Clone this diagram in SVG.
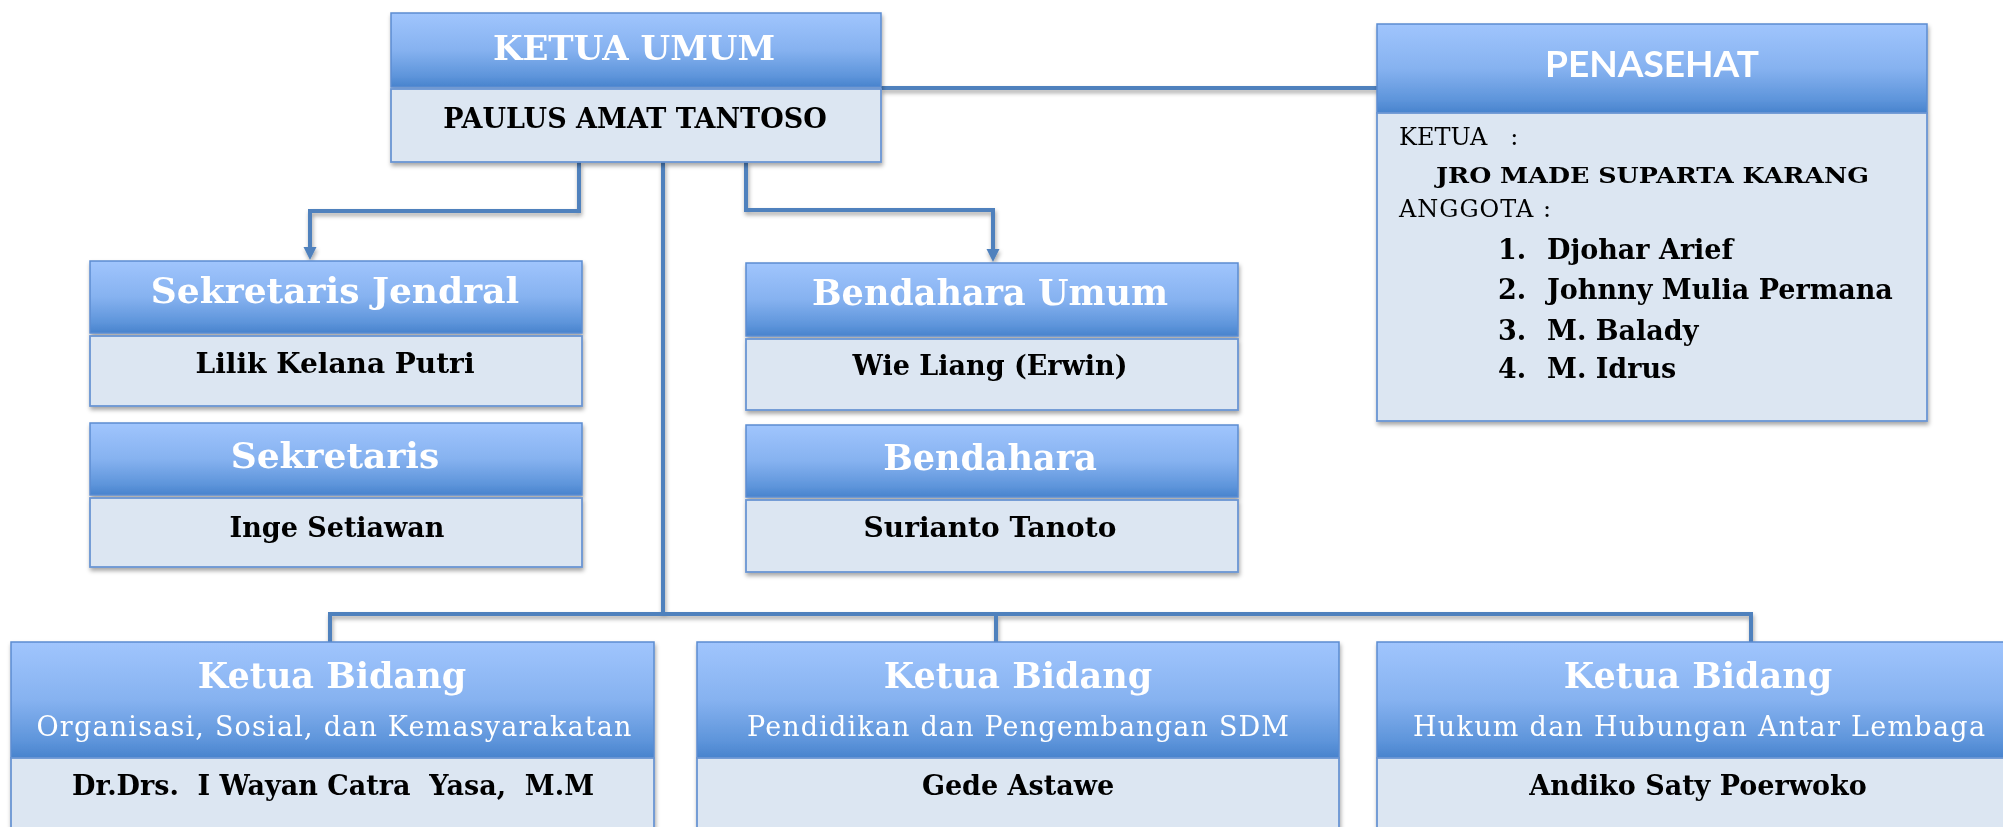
<svg xmlns="http://www.w3.org/2000/svg" width="2003" height="827" viewBox="0 0 2003 827">
<style>
.hdr{fill:url(#hg);stroke:#5C8CD1;stroke-width:1.5}
.bdy{fill:#DCE6F2;stroke:#6A95D3;stroke-width:1.8}
.t{font-family:"DejaVu Serif","Liberation Serif",serif;font-weight:bold;fill:#fff;text-anchor:middle;font-size:35px}
.n{font-family:"DejaVu Serif","Liberation Serif",serif;font-weight:bold;fill:#000;text-anchor:middle;font-size:27px;white-space:pre}
.sub{font-family:"DejaVu Serif","Liberation Serif",serif;fill:#fff;text-anchor:middle;font-size:27px}
.p{font-family:"DejaVu Serif","Liberation Serif",serif;fill:#000;font-size:24px;white-space:pre}
.pb{font-family:"DejaVu Serif","Liberation Serif",serif;font-weight:bold;fill:#000;font-size:27px}
.con{fill:none;stroke:#4F81BD;stroke-width:4}
</style>
<defs>
<linearGradient id="hg" x1="0" y1="0" x2="0" y2="1">
<stop offset="0" stop-color="#A0C5FD"/>
<stop offset="0.5" stop-color="#86B2F0"/>
<stop offset="0.85" stop-color="#5E95DB"/>
<stop offset="1" stop-color="#4883CD"/>
</linearGradient>
<filter id="sh" x="-5%" y="-10%" width="110%" height="130%">
<feDropShadow dx="1" dy="3" stdDeviation="2" flood-color="#000" flood-opacity="0.35"/>
</filter>
<marker id="ar" viewBox="0 0 14 14" refX="0" refY="7" markerWidth="14" markerHeight="14" markerUnits="userSpaceOnUse" orient="auto">
<path d="M0,0.5 L13,7 L0,13.5 z" fill="#4F81BD"/>
</marker>
</defs>
<rect width="2003" height="827" fill="#fff"/>

<g id="connectors" filter="url(#sh)">
<path class="con" d="M881,88 H1377"/>
<path class="con" d="M579,162 V211 H310 V247" marker-end="url(#ar)"/>
<path class="con" d="M746,162 V210 H993 V249" marker-end="url(#ar)"/>
<path class="con" d="M663,162 V614"/>
<path class="con" d="M330,642 V614 H1751 V642"/>
<path class="con" d="M996,614 V642"/>
</g>

<g id="ketua-umum" filter="url(#sh)">
<rect class="hdr" x="391" y="13" width="490" height="74"/>
<rect class="bdy" x="391" y="89" width="490" height="73"/>
<text class="t" x="634" y="60" style="font-size:34px">KETUA UMUM</text>
<text class="n" x="635" y="128">PAULUS AMAT TANTOSO</text>
</g>

<g id="penasehat" filter="url(#sh)">
<rect class="hdr" x="1377" y="24" width="550" height="89"/>
<rect class="bdy" x="1377" y="113" width="550" height="308"/>
<text x="1652" y="77" style="font-family:Lato,'Liberation Sans',sans-serif;font-weight:bold;font-size:37px;fill:#fff;text-anchor:middle">PENASEHAT</text>
<text class="p" x="1399" y="145">KETUA   :</text>
<text class="pb" x="1436" y="183" style="font-size:23px" textLength="433" lengthAdjust="spacingAndGlyphs">JRO MADE SUPARTA KARANG</text>
<text class="p" x="1399" y="217" textLength="152" lengthAdjust="spacing">ANGGOTA :</text>
<text class="pb" x="1498" y="259">1.</text><text class="pb" x="1547" y="259">Djohar Arief</text>
<text class="pb" x="1498" y="299">2.</text><text class="pb" x="1547" y="299">Johnny Mulia Permana</text>
<text class="pb" x="1498" y="340">3.</text><text class="pb" x="1547" y="340">M. Balady</text>
<text class="pb" x="1498" y="378">4.</text><text class="pb" x="1547" y="378">M. Idrus</text>
</g>

<g id="sekretaris-jendral" filter="url(#sh)">
<rect class="hdr" x="90" y="261" width="492" height="72"/>
<rect class="bdy" x="90" y="336" width="492" height="70"/>
<text class="t" x="335" y="303" style="font-size:36px">Sekretaris Jendral</text>
<text class="n" x="335" y="373" style="font-size:28px">Lilik Kelana Putri</text>
</g>

<g id="sekretaris" filter="url(#sh)">
<rect class="hdr" x="90" y="423" width="492" height="72"/>
<rect class="bdy" x="90" y="498" width="492" height="69"/>
<text class="t" x="335" y="468" style="font-size:36px">Sekretaris</text>
<text class="n" x="337" y="537">Inge Setiawan</text>
</g>

<g id="bendahara-umum" filter="url(#sh)">
<rect class="hdr" x="746" y="263" width="492" height="73"/>
<rect class="bdy" x="746" y="339" width="492" height="71"/>
<text class="t" x="990" y="305">Bendahara Umum</text>
<text class="n" x="990" y="375">Wie Liang (Erwin)</text>
</g>

<g id="bendahara" filter="url(#sh)">
<rect class="hdr" x="746" y="425" width="492" height="72"/>
<rect class="bdy" x="746" y="500" width="492" height="72"/>
<text class="t" x="990" y="470">Bendahara</text>
<text class="n" x="990" y="537" style="font-size:28px">Surianto Tanoto</text>
</g>

<g id="ketua-bidang-1" filter="url(#sh)">
<rect class="hdr" x="11" y="642" width="643" height="116"/>
<rect class="bdy" x="11" y="758" width="643" height="90"/>
<text class="t" x="332" y="688">Ketua Bidang</text>
<text class="sub" x="334" y="736" textLength="595" lengthAdjust="spacing">Organisasi, Sosial, dan Kemasyarakatan</text>
<text class="n" x="333" y="795">Dr.Drs.  I Wayan Catra  Yasa,  M.M</text>
</g>

<g id="ketua-bidang-2" filter="url(#sh)">
<rect class="hdr" x="697" y="642" width="642" height="116"/>
<rect class="bdy" x="697" y="758" width="642" height="90"/>
<text class="t" x="1018" y="688">Ketua Bidang</text>
<text class="sub" x="1018" y="736" textLength="542" lengthAdjust="spacing">Pendidikan dan Pengembangan SDM</text>
<text class="n" x="1018" y="795">Gede Astawe</text>
</g>

<g id="ketua-bidang-3" filter="url(#sh)">
<rect class="hdr" x="1377" y="642" width="643" height="116"/>
<rect class="bdy" x="1377" y="758" width="643" height="90"/>
<text class="t" x="1698" y="688">Ketua Bidang</text>
<text class="sub" x="1699" y="736" textLength="572" lengthAdjust="spacing">Hukum dan Hubungan Antar Lembaga</text>
<text class="n" x="1698" y="795">Andiko Saty Poerwoko</text>
</g>
</svg>
